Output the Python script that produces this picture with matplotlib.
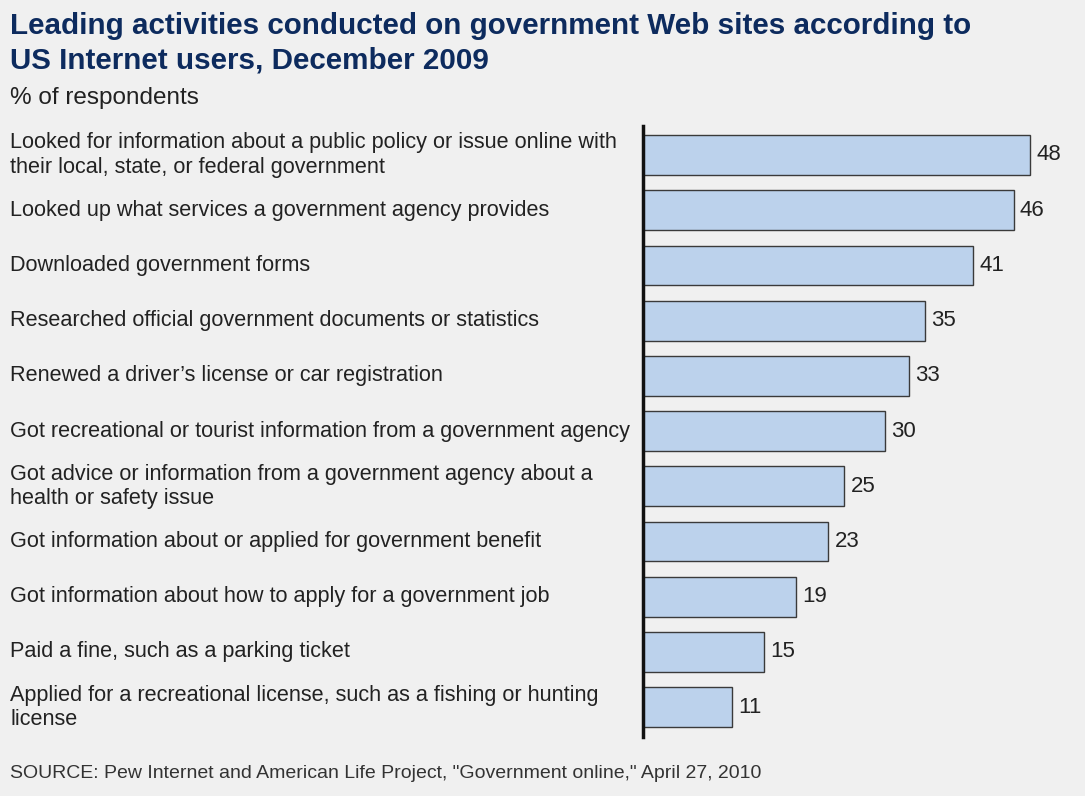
import matplotlib.pyplot as plt
from matplotlib.transforms import blended_transform_factory

plt.rcParams['font.family'] = ['Liberation Sans', 'DejaVu Sans']

activities = [
    "Looked for information about a public policy or issue online with\ntheir local, state, or federal government",
    "Looked up what services a government agency provides",
    "Downloaded government forms",
    "Researched official government documents or statistics",
    "Renewed a driver\u2019s license or car registration",
    "Got recreational or tourist information from a government agency",
    "Got advice or information from a government agency about a\nhealth or safety issue",
    "Got information about or applied for government benefit",
    "Got information about how to apply for a government job",
    "Paid a fine, such as a parking ticket",
    "Applied for a recreational license, such as a fishing or hunting\nlicense",
]
values = [48, 46, 41, 35, 33, 30, 25, 23, 19, 15, 11]

bg = '#f0f0f0'
fig = plt.figure(figsize=(10.85, 7.96), dpi=100, facecolor=bg)
ax = fig.add_axes([643 / 1085, 1 - 737 / 796, 435 / 1085, (737 - 126) / 796])
ax.set_facecolor(bg)

pos = list(range(len(values)))
ax.barh(pos, values, height=0.72, color='#bcd2ec', edgecolor='#3a3a3a', linewidth=1)
ax.set_xlim(0, 54)
ax.set_ylim(10.54, -0.525)

for s in ['top', 'right', 'bottom']:
    ax.spines[s].set_visible(False)
ax.spines['left'].set_linewidth(2.5)
ax.spines['left'].set_color('#111111')
ax.set_xticks([])
ax.set_yticks([])

for p, v in zip(pos, values):
    ax.text(v + 0.8, p, str(v), va='center', ha='left', fontsize=16, color='#222222')

tr = blended_transform_factory(fig.transFigure, ax.transData)
for p, lab in zip(pos, activities):
    ax.text(10 / 1085, p, lab, transform=tr, va='center', ha='left',
            fontsize=15.6, color='#222222', linespacing=1.2)

fig.text(10 / 1085, 1 - 12 / 796, "Leading activities conducted on government Web sites according to\nUS Internet users, December 2009",
         fontsize=21.3, fontweight='bold', color='#0d2b5e', va='top', ha='left', linespacing=1.3)
fig.text(10 / 1085, 1 - 98 / 796, "% of respondents", fontsize=17.5, color='#222222', va='center', ha='left')
fig.text(10 / 1085, 1 - 774 / 796, 'SOURCE: Pew Internet and American Life Project, "Government online," April 27, 2010',
         fontsize=14, color='#333333', va='center', ha='left')

fig.savefig('out.png', dpi=100, facecolor=bg)
